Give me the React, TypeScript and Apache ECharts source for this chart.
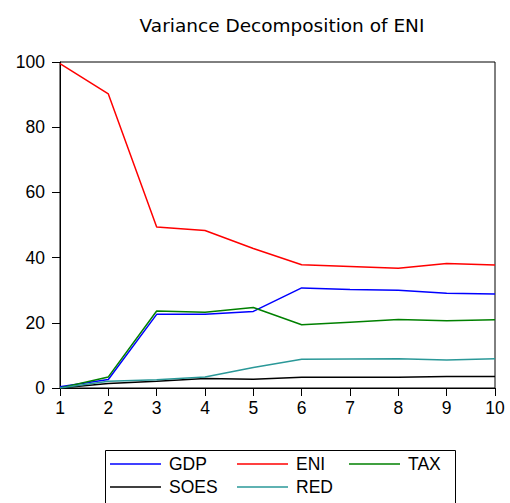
import React, { useEffect, useRef } from "react";
import * as echarts from "echarts";

const periods = ["1", "2", "3", "4", "5", "6", "7", "8", "9", "10"];
const gdp = [0.4, 2.6, 22.6, 22.6, 23.5, 30.7, 30.2, 30.0, 29.1, 28.8];
const eni = [99.5, 90.2, 49.4, 48.3, 42.8, 37.8, 37.3, 36.7, 38.2, 37.7];
const tax = [0.0, 3.4, 23.6, 23.2, 24.7, 19.4, 20.2, 21.0, 20.6, 20.9];
const soes = [0.0, 1.4, 2.1, 2.9, 2.65, 3.3, 3.3, 3.3, 3.5, 3.5];
const red = [0.0, 2.1, 2.55, 3.4, 6.3, 8.8, 8.9, 9.0, 8.6, 9.0];
const yTicks = [0, 20, 40, 60, 80, 100];

const FONT = "Liberation Sans, Arial, sans-serif";

export default function App() {
  const ref = useRef<HTMLDivElement>(null);
  useEffect(() => {
    if (!ref.current) return;
    const chart = echarts.init(ref.current, undefined, { renderer: "svg" });
    const colors: Record<string, string> = {
      GDP: "#0000ff",
      ENI: "#ff0000",
      TAX: "#008000",
      SOES: "#000000",
      RED: "#2a9898",
    };
    const mk = (name: string, data: number[]) => ({
      name,
      type: "line",
      data,
      symbol: "none",
      showSymbol: false,
      lineStyle: { color: colors[name], width: 1.5 },
      itemStyle: { color: colors[name] },
    });
    const legendItem = (name: string, left: number, top: number) => ({
      data: [{ name, icon: "rect", itemStyle: { color: colors[name] } }],
      left,
      top,
      itemWidth: 51,
      itemHeight: 1.5,
      itemGap: 0,
      padding: 0,
      textStyle: { color: "#000", fontSize: 17.5, fontFamily: FONT, padding: [0, 0, 0, 3] },
      selectedMode: false,
    });
    chart.setOption({
      animation: false,
      backgroundColor: "#fff",
      title: {
        text: "Variance Decomposition of ENI",
        left: 277,
        textAlign: "center",
        top: 11,
        textStyle: { color: "#000", fontSize: 18.5, fontWeight: "normal", fontFamily: "DejaVu Sans, sans-serif" },
      },
      grid: {
        left: 60,
        right: 15,
        top: 62,
        bottom: 115,
        show: true,
        borderColor: "#000",
        borderWidth: 1,
        containLabel: false,
      },
      xAxis: {
        type: "category",
        data: periods,
        boundaryGap: false,
        axisLine: { lineStyle: { color: "#000", width: 1 } },
        axisTick: { show: true, length: 8, lineStyle: { color: "#000" } },
        axisLabel: { color: "#000", fontSize: 17.5, fontFamily: FONT, margin: 11 },
        splitLine: { show: false },
      },
      yAxis: {
        type: "value",
        min: 0,
        max: 100,
        interval: 20,
        axisLine: { show: true, lineStyle: { color: "#000", width: 1 } },
        axisTick: { show: true, length: 8, lineStyle: { color: "#000" } },
        axisLabel: { color: "#000", fontSize: 17.5, fontFamily: FONT, margin: 15,
          formatter: (v: number) => (yTicks.includes(v) ? String(v) : "") },
        splitLine: { show: false },
      },
      legend: [
        legendItem("GDP", 110, 455),
        legendItem("ENI", 237, 455),
        legendItem("TAX", 349, 455),
        legendItem("SOES", 110, 478),
        legendItem("RED", 237, 478),
      ],
      graphic: [
        {
          type: "rect",
          left: 103,
          top: 448,
          shape: { width: 350, height: 54 },
          style: { fill: "none", stroke: "#000", lineWidth: 1 },
          silent: true,
        },
      ],
      series: [
        mk("GDP", gdp),
        mk("ENI", eni),
        mk("TAX", tax),
        mk("SOES", soes),
        mk("RED", red),
      ],
    });
    return () => chart.dispose();
  }, []);
  return <div ref={ref} style={{ position: "fixed", left: 0, top: 0, width: 510, height: 503 }} />;
}
